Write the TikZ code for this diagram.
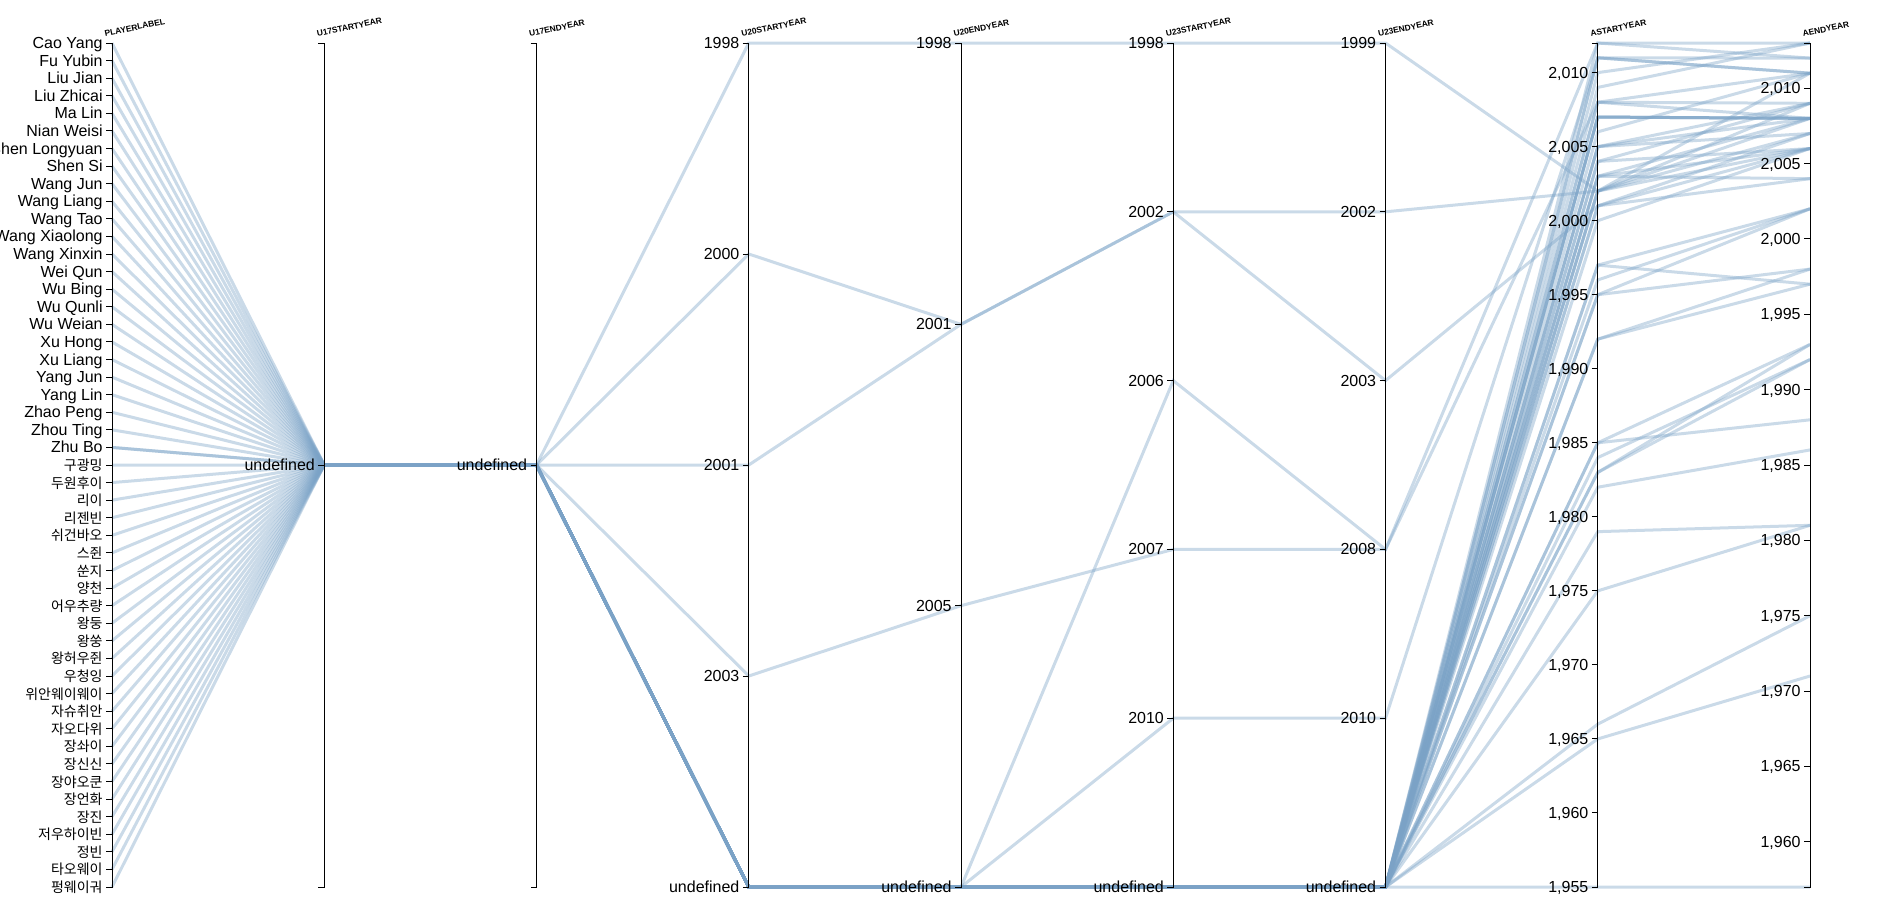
\documentclass[tikz,border=0pt]{standalone}
\usepackage{fontspec}
\setmainfont{Liberation Sans}
\newfontfamily\krfont{Noto Sans CJK KR}
\definecolor{lineblue}{RGB}{122,162,198}
\tikzset{
  pline/.style={draw=lineblue,draw opacity=0.4,line width=1.5pt},
  axisline/.style={draw=black,line width=0.5pt},
  ticklab/.style={anchor=base east,inner sep=0pt,font=\fontsize{8}{9}\selectfont},
  krlab/.style={anchor=base east,inner sep=0pt,font=\krfont\fontsize{7}{8}\selectfont},
  axtitle/.style={anchor=base west,inner sep=0pt,rotate=12,font=\fontsize{4.2}{5}\selectfont\bfseries}
}
\begin{document}
\begin{tikzpicture}[x=0.5pt,y=-0.5pt]
\useasboundingbox (0,0) rectangle (1888,896);
\foreach \i/\p/\q/\r/\s/\a/\e in {0/0/0/0/0/2002/2008,5/1/1/1/1/2002/2009,10/2/1/1/2/2001/2004,15/3/2/3/3/2012/2013,20/4/3/2/3/2008/2008,30/4/3/4/4/2011/2012,
  1/4/3/5/5/2012/2012,2/4/3/5/5/2011/2011,3/4/3/5/5/2011/2011,4/4/3/5/5/2010/2013,6/4/3/5/5/2009/2013,7/4/3/5/5/2008/2009,8/4/3/5/5/2008/2011,9/4/3/5/5/2007/2008,
  11/4/3/5/5/2007/2008,12/4/3/5/5/2007/2008,13/4/3/5/5/2006/2011,14/4/3/5/5/2005/2008,16/4/3/5/5/2005/2007,17/4/3/5/5/2005/2009,18/4/3/5/5/2004/2006,19/4/3/5/5/2004/2009,
  21/4/3/5/5/2003/2004,22/4/3/5/5/2003/2008,23/4/3/5/5/2003/2006,24/4/3/5/5/2002/2006,25/4/3/5/5/2002/2007,26/4/3/5/5/2002/2011,27/4/3/5/5/2001/2006,28/4/3/5/5/2001/2007,
  29/4/3/5/5/2000/2006,31/4/3/5/5/1997/2002,32/4/3/5/5/1997/1997,33/4/3/5/5/1996/2002,34/4/3/5/5/1995/2002,35/4/3/5/5/1995/1998,36/4/3/5/5/1992/1997,37/4/3/5/5/1992/1998,
  38/4/3/5/5/1985/1993,39/4/3/5/5/1985/1988,40/4/3/5/5/1984/1992,41/4/3/5/5/1983/1993,42/4/3/5/5/1983/1992,43/4/3/5/5/1982/1986,44/4/3/5/5/1979/1981,45/4/3/5/5/1975/1981,
  46/4/3/5/5/1966/1975,47/4/3/5/5/1965/1971,48/4/3/5/5/1955/1957,23/4/3/5/5/2007/2008}
  \draw[pline] (112,{43+\i*17.583}) -- (324.25,465) -- (536.5,465) -- (748.75,{43+\p*211}) -- (961,{43+\q*281.333}) -- (1173.25,{43+\r*168.8}) -- (1385.5,{43+\s*168.8}) -- (1597.75,{887-(\a-1955)*14.807}) -- (1810,{887-(\e-1957)*15.071});
% axes
\foreach \x/\t in {112/PLAYERLABEL,324.25/U17STARTYEAR,536.5/U17ENDYEAR,748.75/U20STARTYEAR,961/U20ENDYEAR,1173.25/U23STARTYEAR,1385.5/U23ENDYEAR,1597.75/ASTARTYEAR,1810/AENDYEAR} {
  \draw[axisline] (\x-6,43) -- (\x,43) -- (\x,887) -- (\x-6,887);
  \node[axtitle] at (\x-7,37) {\t};
}
\foreach \n [count=\k from 0] in {Cao Yang,Fu Yubin,Liu Jian,Liu Zhicai,Ma Lin,Nian Weisi,Shen Longyuan,Shen Si,Wang Jun,Wang Liang,Wang Tao,Wang Xiaolong,Wang Xinxin,Wei Qun,Wu Bing,Wu Qunli,Wu Weian,Xu Hong,Xu Liang,Yang Jun,Yang Lin,Zhao Peng,Zhou Ting,Zhu Bo} {
  \draw[axisline] (106,{43+\k*17.583}) -- (112,{43+\k*17.583});
  \node[ticklab] at (103,{48.5+\k*17.583}) {\n};
}
\foreach \n [count=\k from 24] in {구광밍,두원후이,리이,리젠빈,쉬건바오,스쥔,쑨지,양천,어우추량,왕둥,왕쑹,왕허우쥔,우청잉,위안웨이웨이,자슈취안,자오다위,장솨이,장신신,장야오쿤,장언화,장진,저우하이빈,정빈,타오웨이,펑웨이궈} {
  \draw[axisline] (106,{43+\k*17.583}) -- (112,{43+\k*17.583});
  \node[krlab] at (103,{48.5+\k*17.583}) {\n};
}
\foreach \x/\y/\t in {324.25/465/undefined,536.5/465/undefined,
  748.75/43/1998,748.75/254/2000,748.75/465/2001,748.75/676/2003,748.75/887/undefined,
  961/43/1998,961/324.33/2001,961/605.67/2005,961/887/undefined,
  1173.25/43/1998,1173.25/211.8/2002,1173.25/380.6/2006,1173.25/549.4/2007,1173.25/718.2/2010,1173.25/887/undefined,
  1385.5/43/1999,1385.5/211.8/2002,1385.5/380.6/2003,1385.5/549.4/2008,1385.5/718.2/2010,1385.5/887/undefined} {
  \draw[axisline] (\x-6,\y) -- (\x,\y);
  \node[ticklab] at (\x-9,\y+5.5) {\t};
}
\foreach \v/\t in {1955/{1,955},1960/{1,960},1965/{1,965},1970/{1,970},1975/{1,975},1980/{1,980},1985/{1,985},1990/{1,990},1995/{1,995},2000/{2,000},2005/{2,005},2010/{2,010}} {
  \draw[axisline] (1591.75,{887-(\v-1955)*14.807}) -- (1597.75,{887-(\v-1955)*14.807});
  \node[ticklab] at (1588.75,{892.5-(\v-1955)*14.807}) {\t};
}
\foreach \v/\t in {1960/{1,960},1965/{1,965},1970/{1,970},1975/{1,975},1980/{1,980},1985/{1,985},1990/{1,990},1995/{1,995},2000/{2,000},2005/{2,005},2010/{2,010}} {
  \draw[axisline] (1804,{887-(\v-1957)*15.071}) -- (1810,{887-(\v-1957)*15.071});
  \node[ticklab] at (1801,{892.5-(\v-1957)*15.071}) {\t};
}
\end{tikzpicture}
\end{document}
